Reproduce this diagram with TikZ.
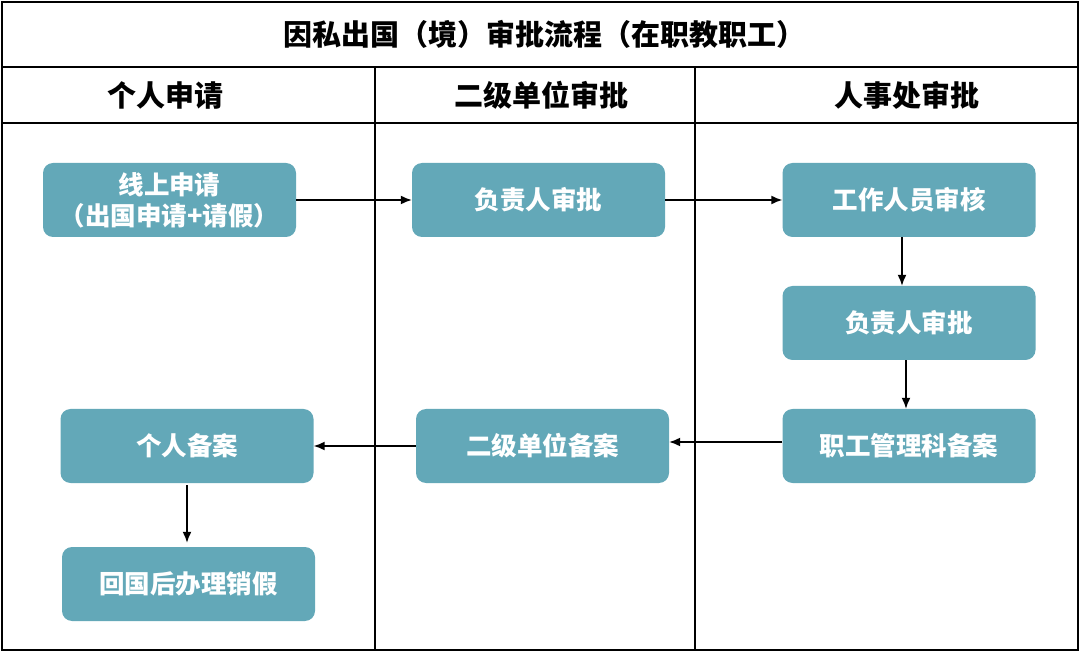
\documentclass[tikz,border=0pt]{standalone}
\usepackage{fontspec}
\setmainfont{Noto Sans CJK SC}
\usetikzlibrary{arrows.meta}
\definecolor{boxc}{RGB}{99,168,184}
\begin{document}
\begin{tikzpicture}[x=1pt,y=-1pt,
  stepbox/.style={draw=none,fill=boxc,rounded corners=10pt,minimum width=253pt,minimum height=74pt,text=white,font=\bfseries\fontsize{25.5}{31}\selectfont,align=center,inner sep=0pt},
  frame/.style={line width=2pt,draw=black},
  conn/.style={line width=1.6pt,-{Latex[length=11pt,width=9pt]}},
  head/.style={font=\bfseries\fontsize{29}{34}\selectfont,inner sep=0pt}]
\useasboundingbox (0,0) rectangle (1080,652);
% frame
\draw[frame] (2,2) rectangle (1078,650);
\draw[frame] (2,67) -- (1078,67);
\draw[frame] (2,123) -- (1078,123);
\draw[frame] (375,67) -- (375,650);
\draw[frame] (695,67) -- (695,650);
% headers
\node[head] (title) at (544,34) {因私出国（境）审批流程（在职教职工）};
\node[head] (h1) at (165,95) {个人申请};
\node[head] (h2) at (541,95) {二级单位审批};
\node[head] (h3) at (907,95) {人事处审批};
% boxes
\node[stepbox] (apply) at (169.5,200) {线上申请\\（出国申请+请假）};
\node[stepbox] (lead1) at (538.5,200) {负责人审批};
\node[stepbox] (staff) at (909,200) {工作人员审核};
\node[stepbox] (lead2) at (909,323) {负责人审批};
\node[stepbox] (hrrec) at (909,446) {职工管理科备案};
\node[stepbox] (unitrec) at (542.5,446) {二级单位备案};
\node[stepbox] (selfrec) at (187,446) {个人备案};
\node[stepbox] (back) at (188.5,584) {回国后办理销假};
% connectors
\draw[conn] (apply.east) -- (lead1.west);
\draw[conn] (lead1.east) -- (staff.west);
\draw[conn] ([xshift=-7pt]staff.south) -- ([xshift=-7pt]lead2.north);
\draw[conn] ([xshift=-3pt]lead2.south) -- ([xshift=-3pt]hrrec.north);
\draw[conn] ([yshift=4pt]hrrec.west) -- ([yshift=4pt]unitrec.east);
\draw[conn] (unitrec.west) -- (selfrec.east);
\draw[conn] ([yshift=-2pt]selfrec.south) -- ([yshift=4pt]selfrec.south |- back.north);
\end{tikzpicture}
\end{document}
